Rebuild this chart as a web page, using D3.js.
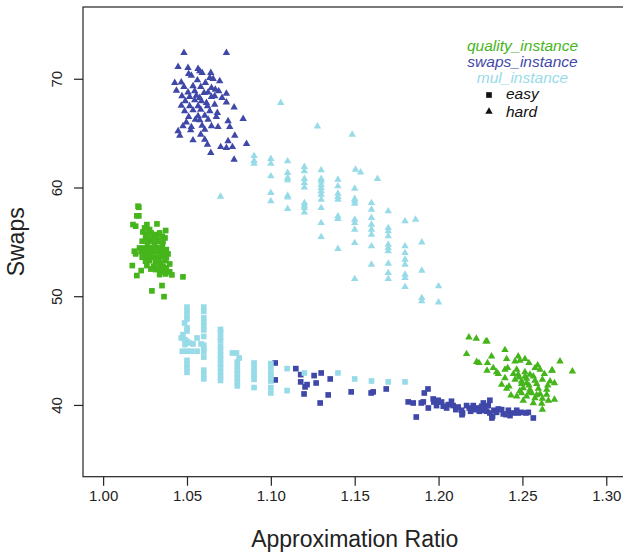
<!DOCTYPE html>
<html>
<head>
<meta charset="utf-8">
<script src="https://cdn.jsdelivr.net/npm/d3@7"></script>
<style>
  body { margin: 0; background: #fff; }
  text { font-family: "Liberation Sans", Arial, Helvetica, sans-serif; }
</style>
</head>
<body>
<div id="scatter"></div>
<script>
// data: [approximation ratio, swaps]
var qualityEasy = [
  [1.0208,58.28],[1.0213,58.18],[1.0201,57.39],[1.0213,57.39],[1.0178,56.59],[1.0194,56.44],[1.0261,56.59],
  [1.0321,56.65],[1.0247,56.28],[1.0277,56.13],[1.0237,55.91],[1.0257,55.73],[1.0287,55.82],[1.0313,55.67],
  [1.0337,55.82],[1.0373,56.04],[1.0253,55.52],[1.0297,55.52],[1.0321,55.42],[1.0353,55.52],[1.0369,55.36],
  [1.0233,55.06],[1.0273,55.06],[1.0293,55.21],[1.0327,55.06],[1.0357,55.0],[1.0217,54.44],[1.0247,54.44],
  [1.0277,54.38],[1.0297,54.44],[1.0321,54.5],[1.0353,54.6],[1.0377,54.29],[1.0186,54.14],[1.0194,53.89],
  [1.0227,54.07],[1.0257,53.98],[1.0287,54.14],[1.0313,54.07],[1.0337,53.98],[1.0361,54.14],[1.0387,53.89],
  [1.0233,53.58],[1.0257,53.52],[1.0281,53.68],[1.0305,53.58],[1.0333,53.52],[1.0361,53.68],[1.0377,53.52],
  [1.0253,53.22],[1.0277,53.28],[1.0313,53.22],[1.0341,53.06],[1.0369,53.28],[1.0397,52.97],[1.0174,52.82],
  [1.0261,52.82],[1.0301,52.76],[1.0333,52.85],[1.0357,52.76],[1.0377,52.6],[1.0227,52.36],[1.0313,52.45],
  [1.0341,52.36],[1.0367,52.24],[1.0397,52.24],[1.0201,51.9],[1.0337,51.99],[1.0373,52.05],[1.0410,51.96],
  [1.0351,50.98],[1.0291,50.49],[1.0363,49.96],[1.0476,51.78],[1.0265,54.8],[1.0305,54.9],[1.0245,53.8],
  [1.0285,52.5],[1.0325,53.4],[1.0345,54.3],[1.0265,55.3]
];

var qualityHard = [
  [1.2181,46.22],[1.2225,46.1],[1.2283,45.86],[1.2289,45.86],[1.2167,44.69],[1.2396,45.06],[1.2316,44.48],
  [1.2475,44.48],[1.2515,44.23],[1.2406,44.23],[1.2227,43.96],[1.2241,43.86],[1.2292,43.86],[1.2456,44.02],
  [1.2485,44.08],[1.2539,43.86],[1.2591,43.65],[1.2724,44.02],[1.2326,43.4],[1.2289,43.16],[1.2346,43.03],
  [1.2356,42.85],[1.2396,43.25],[1.2412,43.4],[1.2466,43.25],[1.2575,43.4],[1.2605,43.25],[1.2675,43.16],
  [1.2798,43.1],[1.2446,42.85],[1.2475,42.79],[1.2515,43.03],[1.2545,42.79],[1.2565,42.64],[1.2631,42.85],
  [1.2479,42.54],[1.2525,42.42],[1.2396,42.48],[1.2456,42.33],[1.2495,42.18],[1.2575,42.24],[1.2619,42.33],
  [1.2665,42.18],[1.2376,41.87],[1.242,41.72],[1.2495,41.93],[1.2539,41.81],[1.2585,41.93],[1.2651,41.81],
  [1.2691,42.02],[1.2406,41.5],[1.2505,41.56],[1.2545,41.41],[1.2595,41.5],[1.2645,41.41],[1.2432,40.89],
  [1.2495,41.1],[1.2555,41.1],[1.2605,41.01],[1.2645,40.95],[1.2466,40.8],[1.2525,40.8],[1.2575,40.64],
  [1.2619,40.58],[1.2655,40.4],[1.2691,40.49],[1.2505,40.4],[1.2565,40.18],[1.2615,40.12],[1.2619,39.57],
  [1.2678,43.18],[1.2515,42.6],[1.2545,41.2],[1.2585,40.9],[1.2485,41.3],[1.2525,42.0]
];

var swapsEasy = [
  [1.1026,43.86],[1.1026,42.3],[1.1149,43.34],[1.1178,42.79],[1.1178,42.12],[1.1204,41.66],[1.1216,41.87],
  [1.1198,41.01],[1.1258,42.7],[1.127,42.02],[1.13,42.94],[1.1294,40.18],[1.1342,40.92],[1.1354,42.39],
  [1.1479,41.2],[1.1598,41.1],[1.161,41.2],[1.1688,41.47],[1.1819,40.28],[1.1849,40.18],[1.1867,38.89],
  [1.1897,40.18],[1.1909,40.28],[1.1915,41.1],[1.1937,41.47],[1.1939,39.72],[1.1968,40.55],[1.1972,40.27],
  [1.1998,40.43],[1.1988,39.94],[1.2018,40.27],[1.2028,39.88],[1.2048,39.72],[1.2058,40.03],[1.2077,40.34],
  [1.2087,39.94],[1.2103,39.57],[1.2117,39.81],[1.2143,39.26],[1.2137,39.51],[1.2167,39.94],[1.2183,39.72],
  [1.2191,39.42],[1.2207,39.94],[1.2217,39.57],[1.2231,39.72],[1.2243,39.42],[1.2257,39.88],[1.2267,40.18],
  [1.2277,39.63],[1.2287,39.42],[1.2296,39.94],[1.2306,40.43],[1.2306,39.26],[1.2322,38.96],[1.233,39.51],
  [1.2346,39.32],[1.2356,39.63],[1.2376,39.57],[1.2386,39.17],[1.2402,39.11],[1.2416,39.51],[1.2426,39.02],
  [1.2446,39.26],[1.2466,39.51],[1.2476,39.26],[1.2495,39.32],[1.2521,39.26],[1.2535,39.32],[1.2565,38.8],
  [1.214,39.1],[1.2318,38.8],[1.2225,39.6],[1.2255,39.5],[1.2265,39.8]
];

var swapsHard = [
  [1.0482,72.38],[1.0735,72.38],[1.0447,71.1],[1.0506,71.0],[1.0566,70.91],[1.0576,70.7],[1.051,70.45],
  [1.0526,70.3],[1.059,70.54],[1.0642,70.54],[1.0636,70.08],[1.0656,69.99],[1.0695,69.78],[1.0427,69.62],
  [1.0466,69.68],[1.0562,69.87],[1.061,69.62],[1.0482,69.26],[1.0536,69.32],[1.0582,69.26],[1.0646,69.16],
  [1.0669,69.01],[1.0437,68.92],[1.0506,68.76],[1.0546,68.86],[1.0602,68.7],[1.0626,68.76],[1.0689,68.86],
  [1.0735,68.64],[1.047,68.4],[1.0516,68.33],[1.0556,68.46],[1.0576,68.24],[1.0646,68.33],[1.0665,68.4],
  [1.0709,68.24],[1.049,67.94],[1.0546,68.03],[1.0586,67.94],[1.0616,67.78],[1.0735,67.84],[1.0466,67.54],
  [1.0516,67.48],[1.0566,67.48],[1.0622,67.48],[1.0665,67.63],[1.0781,67.38],[1.0486,67.02],[1.0536,67.11],
  [1.0582,67.17],[1.0636,67.02],[1.0681,66.86],[1.051,66.5],[1.0566,66.56],[1.0606,66.62],[1.0675,66.5],
  [1.0835,66.31],[1.0496,66.0],[1.055,66.25],[1.0576,66.19],[1.0626,66.25],[1.0745,66.1],[1.0476,65.64],
  [1.0526,65.57],[1.059,65.7],[1.0646,65.64],[1.0685,65.57],[1.0755,65.57],[1.0447,65.18],[1.0522,65.27],
  [1.0606,65.33],[1.0457,64.78],[1.0582,64.87],[1.0785,64.78],[1.0536,64.35],[1.0606,64.41],[1.0745,64.26],
  [1.0855,64.01],[1.0622,63.95],[1.0701,63.73],[1.0735,63.64],[1.0771,63.73],[1.0642,63.18],[1.0781,62.57]
];

var mulEasy = [
  [1.05,49.0],[1.05,48.65],[1.05,48.2],[1.05,47.9],[1.05,47.1],[1.05,46.8],[1.05,44.1],[1.05,43.7],[1.05,43.4],[1.05,43.0],
  [1.0476,46.47],[1.0466,46.16],[1.0486,46.01],[1.0488,45.55],[1.05,45.86],[1.0516,45.7],[1.0536,45.61],
  [1.056,46.16],[1.0584,45.61],[1.0486,47.54],[1.0472,44.94],[1.05,44.94],[1.0526,44.94],[1.056,44.94],
  [1.06,49.0],[1.06,48.6],[1.06,48.0],[1.06,47.6],[1.06,47.2],[1.06,46.9],[1.06,46.3],[1.06,45.5],[1.06,45.2],
  [1.06,44.9],[1.06,44.4],[1.06,43.2],[1.06,42.8],[1.06,42.4],
  [1.07,46.95],[1.07,46.7],[1.07,46.2],[1.07,45.9],[1.07,45.4],[1.07,45.0],[1.07,44.6],[1.07,44.2],[1.07,43.8],
  [1.07,43.45],[1.07,43.0],[1.07,42.6],[1.07,42.25],
  [1.0771,44.78],[1.0795,44.78],[1.0811,44.32],
  [1.08,43.95],[1.08,43.6],[1.08,43.2],[1.08,42.85],[1.08,42.5],[1.08,42.1],[1.08,41.75],
  [1.09,43.86],[1.09,43.5],[1.09,43.1],[1.09,42.75],[1.09,42.35],[1.09,41.6],
  [1.10,43.8],[1.10,43.4],[1.10,42.9],[1.10,42.6],[1.10,42.2],[1.10,41.6],[1.10,41.1],
  [1.1097,43.34],[1.1097,41.32],[1.12,42.94],[1.14,42.94],[1.15,42.39],[1.16,42.2],[1.17,42.12],[1.18,42.12]
];

var mulHard = [
  [1.07,59.17],[1.1059,67.78],[1.1278,65.63],[1.1485,64.87],[1.1505,61.65],[1.1535,61.4],[1.1636,60.79],[1.1863,57.05],
  [1.09,62.9],[1.09,62.45],[1.09,62.2],
  [1.10,62.63],[1.10,62.2],[1.10,61.04],[1.10,59.5],[1.10,58.74],
  [1.11,62.42],[1.11,61.34],[1.11,60.88],[1.11,60.67],[1.11,59.26],[1.11,59.1],[1.11,58.03],
  [1.12,61.9],[1.12,61.5],[1.12,60.79],[1.12,60.42],[1.12,60.02],[1.12,58.58],[1.12,58.34],[1.12,58.12],[1.12,57.72],
  [1.13,61.59],[1.13,60.79],[1.13,60.58],[1.13,60.27],[1.13,59.96],[1.13,59.66],[1.13,59.35],[1.13,58.89],
  [1.13,58.12],[1.13,56.74],[1.13,55.45],
  [1.14,60.73],[1.14,60.12],[1.14,59.44],[1.14,59.13],[1.14,58.89],[1.14,57.36],[1.14,57.11],[1.14,54.35],
  [1.15,59.9],[1.15,58.95],[1.15,58.74],[1.15,58.52],[1.15,57.05],[1.15,56.74],[1.15,56.13],[1.15,54.9],[1.15,51.59],
  [1.16,58.58],[1.16,57.97],[1.16,57.2],[1.16,56.59],[1.16,56.13],[1.16,55.67],[1.16,54.6],[1.16,52.91],
  [1.17,57.82],[1.17,56.28],[1.17,55.98],[1.17,55.52],[1.17,54.75],[1.17,54.44],[1.17,54.14],[1.17,53.0],
  [1.17,52.14],[1.17,51.59],
  [1.18,56.9],[1.18,54.6],[1.18,53.98],[1.18,53.37],[1.18,52.91],[1.18,51.99],[1.18,51.68],[1.18,50.85],
  [1.19,54.96],[1.19,52.36],[1.19,49.84],[1.19,49.54],
  [1.20,50.92],[1.20,49.44]
];

var xTicks = [1.00, 1.05, 1.10, 1.15, 1.20, 1.25, 1.30];
var yTicks = [40, 50, 60, 70];
var legendNames = ["quality_instance", "swaps_instance", "mul_instance"];
var legendShapes = ["easy", "hard"];

var colors = {
  quality: "#45b51b",
  swaps: "#3f48a8",
  mul: "#98dbe8"
};

var svgWidth = 623;
var svgHeight = 552;

var plot = { left: 83, top: 7, right: 626.4, bottom: 476.7 };

var svg = d3.select("#scatter")
  .append("svg")
  .attr("width", svgWidth)
  .attr("height", svgHeight);

var xScale = d3.scaleLinear()
  .domain([0.988, 1.312])
  .range([plot.left, plot.right]);

var yScale = d3.scaleLinear()
  .domain([33.4, 76.6])
  .range([plot.bottom, plot.top]);

// box
svg.append("rect")
  .attr("x", plot.left)
  .attr("y", plot.top)
  .attr("width", plot.right - plot.left)
  .attr("height", plot.bottom - plot.top)
  .attr("fill", "none")
  .attr("stroke", "#222")
  .attr("stroke-width", 1.2);

// axes
var bottomAxis = d3.axisBottom(xScale)
  .tickValues(xTicks)
  .tickFormat(d3.format(".2f"))
  .tickSize(9);

var xAxis = svg.append("g")
  .attr("transform", `translate(0, ${plot.bottom})`)
  .call(bottomAxis);
xAxis.select(".domain").remove();
xAxis.selectAll("line").attr("stroke", "#222").attr("stroke-width", 1.2);
xAxis.selectAll("text")
  .attr("y", 24)
  .attr("dy", 0)
  .attr("font-size", "15px")
  .attr("font-family", "Liberation Sans, Arial, sans-serif")
  .attr("fill", "#222");

var leftAxis = d3.axisLeft(yScale)
  .tickValues(yTicks)
  .tickSize(9);

var yAxis = svg.append("g")
  .attr("transform", `translate(${plot.left}, 0)`)
  .call(leftAxis);
yAxis.select(".domain").remove();
yAxis.selectAll("line").attr("stroke", "#222").attr("stroke-width", 1.2);
yAxis.selectAll("text")
  .attr("transform", "rotate(-90)")
  .attr("x", 0)
  .attr("y", -21)
  .attr("dy", 0)
  .attr("text-anchor", "middle")
  .attr("font-size", "15px")
  .attr("font-family", "Liberation Sans, Arial, sans-serif")
  .attr("fill", "#222");

// axis titles
svg.append("text")
  .attr("x", (plot.left + plot.right) / 2)
  .attr("y", 547)
  .attr("text-anchor", "middle")
  .attr("font-size", "23px")
  .attr("fill", "#222")
  .text("Approximation Ratio");

svg.append("text")
  .attr("transform", `translate(24, ${(plot.top + plot.bottom) / 2}) rotate(-90)`)
  .attr("text-anchor", "middle")
  .attr("font-size", "23px")
  .attr("fill", "#222")
  .text("Swaps");

// points
var square = d3.symbol().type(d3.symbolSquare).size(32);
var triangle = d3.symbol().type(d3.symbolTriangle).size(24);

function drawPoints(data, sym, color) {
  svg.append("g")
    .selectAll("path")
    .data(data)
    .enter()
    .append("path")
    .attr("d", sym)
    .attr("transform", d => `translate(${xScale(d[0])}, ${yScale(d[1])})`)
    .attr("fill", color);
}

drawPoints(qualityEasy, square, colors.quality);
drawPoints(qualityHard, triangle, colors.quality);
drawPoints(swapsEasy, square, colors.swaps);
drawPoints(swapsHard, triangle, colors.swaps);
drawPoints(mulEasy, square, colors.mul);
drawPoints(mulHard, triangle, colors.mul);

// legend
var legendColors = [colors.quality, colors.swaps, colors.mul];
svg.append("g")
  .selectAll("text")
  .data(legendNames)
  .enter()
  .append("text")
  .attr("x", 522.5)
  .attr("y", (d, i) => 51 + i * 16)
  .attr("text-anchor", "middle")
  .attr("font-size", "15.5px")
  .attr("font-style", "italic")
  .attr("fill", (d, i) => legendColors[i])
  .text(d => d);

var shapeLegend = svg.append("g");
shapeLegend.selectAll("path")
  .data(legendShapes)
  .enter()
  .append("path")
  .attr("d", (d, i) => i === 0 ? square() : triangle())
  .attr("transform", (d, i) => `translate(489, ${95 + i * 16.5})`)
  .attr("fill", "#111");

shapeLegend.selectAll("text")
  .data(legendShapes)
  .enter()
  .append("text")
  .attr("x", 506)
  .attr("y", (d, i) => 99 + i * 17.5)
  .attr("font-size", "15.5px")
  .attr("font-style", "italic")
  .attr("fill", "#111")
  .text(d => d);
</script>
</body>
</html>
